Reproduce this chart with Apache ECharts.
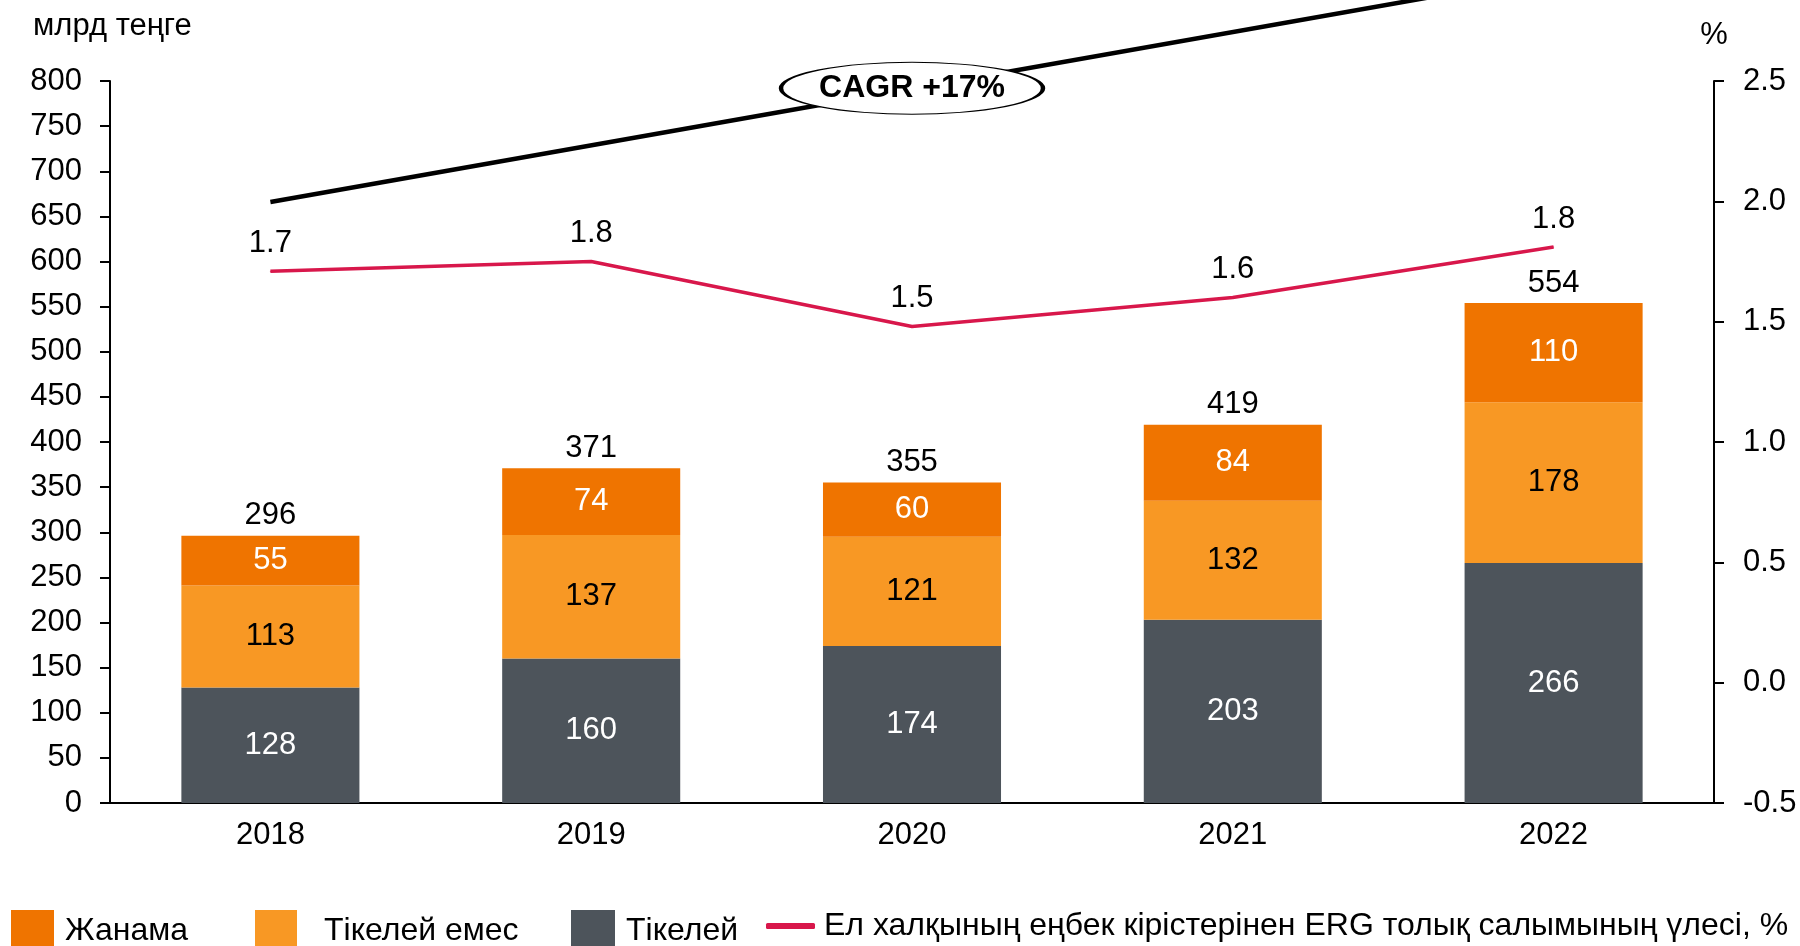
<!DOCTYPE html>
<html><head><meta charset="utf-8">
<script src="https://cdn.jsdelivr.net/npm/echarts@6/dist/echarts.min.js"></script>
<style>html,body{margin:0;padding:0;background:#fff}#c{width:1800px;height:946px}</style>
</head><body><div id="c"></div>
<script>
const years = ['2018','2019','2020','2021','2022'];
const direct = [128,160,174,203,266];          // Тікелей
const indirectNon = [113,137,121,132,178];     // Тікелей емес
const induced = [55,74,60,84,110];             // Жанама
const totals = [296,371,355,419,554];
const share = [1.71,1.75,1.48,1.60,1.81];      // %
const cagrLine = [666,null,null,null,917];
const cagrBadge = [['2020',792]];
const leftTicks = {min:0,max:800,interval:50};
const rightTicks = {min:-0.5,max:2.5,interval:0.5};

const FONT = "'Liberation Sans', Arial, sans-serif";
const FS = 31;
const C_DARK = '#4D545B', C_LIGHT = '#F89824', C_ORANGE = '#EF7400', C_RED = '#D8174B';
const chart = echarts.init(document.getElementById('c'));
const lbl = (color) => ({show:true, position:'inside', color, fontSize:FS, fontFamily:FONT});
const legendBase = (left, name, w, h, icon, padLeft) => ({
  left, top:910, padding:0, data:[{name, icon}], itemWidth:w, itemHeight:h, selectedMode:false,
  textStyle:{fontSize:32, fontFamily:FONT, color:'#000', padding:[0,0,0,padLeft]}
});
chart.setOption({
  animation:false,
  textStyle:{fontFamily:FONT},
  title:{text:'млрд теңге', left:28, top:6, textStyle:{fontSize:FS, fontWeight:'normal', color:'#000', fontFamily:FONT}},
  grid:{left:110, right:86, top:81, bottom:143, containLabel:false},
  legend:[
    legendBase(11,'Жанама',43,42,'rect',6),
    legendBase(255,'Тікелей емес',42,42,'rect',22),
    legendBase(571,'Тікелей',44,42,'rect',6),
    legendBase(766,'Ел халқының еңбек кірістерінен ERG толық салымының үлесі, %',49,6,'roundRect',4)
  ],
  xAxis:{type:'category', data:years,
    axisLine:{lineStyle:{color:'#000', width:2}}, axisTick:{show:false},
    axisLabel:{color:'#000', fontSize:FS, margin:17, fontFamily:FONT}},
  yAxis:[
    {type:'value', ...leftTicks, position:'left',
      axisLine:{show:true, lineStyle:{color:'#000', width:2}},
      axisTick:{show:true, length:10, lineStyle:{color:'#000', width:2}},
      axisLabel:{color:'#000', fontSize:FS, margin:28, fontFamily:FONT},
      splitLine:{show:false}},
    {type:'value', ...rightTicks, position:'right', name:'%', nameLocation:'end', nameGap:30,
      nameTextStyle:{color:'#000', fontSize:FS, fontFamily:FONT},
      axisLine:{show:true, lineStyle:{color:'#000', width:2}},
      axisTick:{show:true, length:10, lineStyle:{color:'#000', width:2}},
      axisLabel:{color:'#000', fontSize:FS, margin:29, fontFamily:FONT, formatter:v=>v.toFixed(1)},
      splitLine:{show:false}}
  ],
  series:[
    {name:'Тікелей', type:'bar', stack:'s', data:direct, barWidth:'55.5%', itemStyle:{color:C_DARK}, label:lbl('#fff')},
    {name:'Тікелей емес', type:'bar', stack:'s', data:indirectNon, itemStyle:{color:C_LIGHT}, label:lbl('#000')},
    {name:'Жанама', type:'bar', stack:'s', data:induced, itemStyle:{color:C_ORANGE}, label:lbl('#fff')},
    {name:'totals', type:'line', data:totals, symbol:'circle', symbolSize:1, silent:true,
      itemStyle:{color:'rgba(0,0,0,0)'}, lineStyle:{width:0, opacity:0},
      label:{show:true, position:'top', distance:4, color:'#000', fontSize:FS, fontFamily:FONT}},
    {name:'Ел халқының еңбек кірістерінен ERG толық салымының үлесі, %', type:'line', yAxisIndex:1, data:share,
      symbol:'circle', showSymbol:true, symbolSize:1, lineStyle:{color:C_RED, width:3.5}, itemStyle:{color:C_RED},
      label:{show:true, position:'top', distance:12, color:'#000', fontSize:FS, fontFamily:FONT,
        formatter:p=>(Math.round(p.value*10)/10).toFixed(1)}},
    {name:'cagr', type:'line', data:cagrLine, connectNulls:true, clip:false, symbol:'none', silent:true,
      lineStyle:{color:'#000', width:4.5}, z:5},
    {name:'cagrBadge', type:'scatter', data:cagrBadge, clip:false, symbol:'circle', symbolSize:[262,52], silent:true, z:6,
      itemStyle:{color:'#fff', borderColor:'#000', borderWidth:2, opacity:1},
      label:{show:true, position:'inside', formatter:'CAGR +17%', color:'#000', fontSize:32, fontWeight:'bold', fontFamily:FONT}}
  ]
});
</script></body></html>
